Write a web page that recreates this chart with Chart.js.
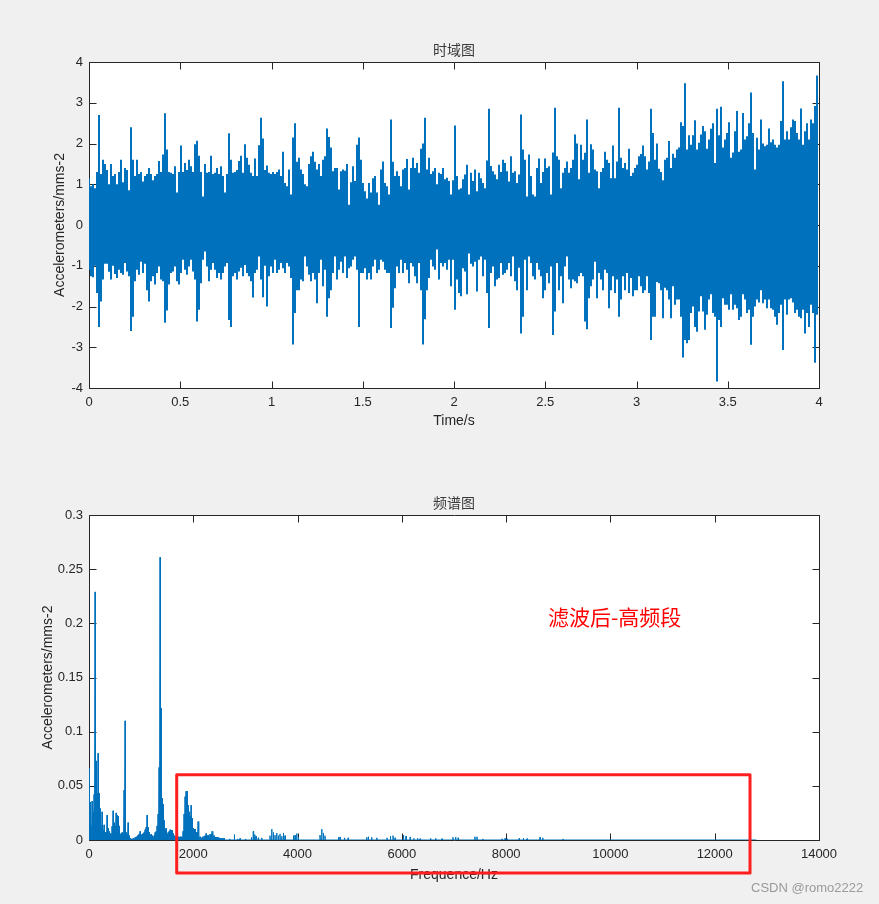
<!DOCTYPE html>
<html>
<head>
<meta charset="utf-8">
<script src="https://cdn.jsdelivr.net/npm/chart.js@4.4.1/dist/chart.umd.min.js"></script>
<style>
html,body{margin:0;padding:0;background:#f0f0f0;width:879px;height:904px;overflow:hidden}
.wrap{position:absolute;left:0;width:879px;height:452px}
#w1{top:0}
#w2{top:452px}
#wm{position:absolute;left:751px;top:880px;font:13px "Liberation Sans",Arial,sans-serif;color:#9a9a9a;white-space:nowrap}
</style>
</head>
<body>
<div class="wrap" id="w1"><canvas id="c1" width="879" height="452" style="width:879px;height:452px"></canvas></div>
<div class="wrap" id="w2"><canvas id="c2" width="879" height="452" style="width:879px;height:452px"></canvas></div>
<div id="wm">CSDN @romo2222</div>
<script>
// ---------------- DATA ----------------
// Time-domain signal: per-column upper / lower envelope (0..4 s)
const timeSpan = 4;
const upperEnv = [
1.15,0.95,1.0,0.9,1.3,2.7,1.25,1.6,1.5,1.35,
1.0,1.5,1.2,1.25,1.0,1.3,1.6,1.05,1.4,1.35,
0.85,2.4,1.6,1.2,1.6,1.25,1.3,1.07,1.2,1.25,
1.4,1.25,1.1,1.2,1.25,1.57,1.3,1.73,2.74,1.85,
1.3,1.28,1.25,1.44,0.8,1.3,1.95,1.3,1.52,1.35,
1.6,1.44,1.3,1.98,2.07,1.7,1.3,0.7,1.5,1.28,
1.3,1.7,1.25,1.28,1.4,1.25,1.44,1.2,0.8,1.25,
2.25,1.6,1.28,1.3,1.35,1.57,1.7,1.28,1.98,1.65,
1.48,1.28,1.2,1.63,1.2,1.96,2.63,2.12,1.35,1.46,
1.28,1.25,
1.3,1.25,1.3,1.36,1.2,1.8,1.03,0.95,1.36,0.75,
2.15,2.5,1.55,1.65,1.36,1.25,1.0,0.95,1.5,1.69,
1.8,1.55,1.36,1.5,1.2,1.6,1.69,2.37,2.16,1.9,
1.32,1.4,1.4,0.87,1.32,1.36,1.33,1.5,0.5,1.05,
1.44,1.08,1.97,2.15,1.6,1.03,0.83,0.65,1.03,0.8,
1.15,1.2,0.8,0.5,1.36,1.56,1.03,0.95,0.75,2.59,
1.55,1.2,1.32,1.2,0.95,1.36,1.4,1.62,0.87,1.4,
1.65,1.4,1.52,1.28,1.87,2.0,2.63,1.36,1.65,1.25,
1.32,1.4,1.0,1.28,1.25,1.4,1.12,1.16,1.08,0.75,1.1,
2.44,1.2,0.87,0.9,1.12,1.24,1.48,0.75,1.28,1.08,
1.36,0.83,1.28,1.15,1.03,0.9,1.58,2.85,1.45,1.32,
1.24,1.12,1.48,1.3,1.6,1.52,1.32,1.07,1.69,1.28,
1.32,1.03,1.24,2.71,1.85,1.6,0.7,1.73,1.2,0.75,
0.7,1.4,1.63,1.03,1.3,1.63,1.4,1.44,0.75,1.78,
2.88,1.69,1.6,0.9,1.28,1.4,1.56,1.28,1.4,1.6,
2.22,2.0,1.12,1.97,1.6,1.77,2.59,1.28,1.98,1.85,
1.36,1.32,0.9,1.3,1.4,1.8,1.6,1.52,1.15,1.95,
1.15,1.56,2.88,1.65,1.4,1.52,1.36,1.87,1.2,1.28,1.4,
1.48,1.69,1.74,1.95,1.69,1.36,1.56,2.85,2.26,1.6,
2.0,1.38,1.3,1.1,1.6,1.65,2.06,1.4,1.75,1.65,
1.85,1.9,2.52,2.43,3.48,1.85,2.2,1.97,2.2,2.57,
1.85,2.02,2.22,2.43,2.3,1.87,2.1,2.36,2.5,1.52,
2.85,2.2,2.9,1.9,2.1,2.26,2.52,1.65,1.78,2.3,
2.8,1.8,1.85,2.75,2.1,2.18,2.5,3.25,2.26,1.36,
2.14,1.85,2.59,2.0,1.93,1.97,2.37,2.03,2.1,1.97,
1.9,1.97,2.55,3.53,2.1,2.3,2.1,2.4,2.59,2.55,
2.26,2.1,2.86,1.97,2.3,2.5,2.1,2.59,2.5,2.92,3.67
];
const lowerEnv = [
-1.1,-1.26,-1.28,-1.0,-1.67,-2.5,-1.88,-1.34,-0.95,-0.95,
-1.15,-1.34,-1.0,-1.2,-1.3,-1.1,-1.18,-1.22,-0.93,-1.14,
-1.26,-2.6,-2.25,-1.38,-1.1,-1.22,-0.9,-1.18,-0.95,-1.6,
-1.88,-1.38,-1.26,-1.46,-1.18,-1.02,-1.34,-1.38,-2.4,-2.1,
-1.46,-1.18,-1.14,-1.02,-1.38,-1.46,-1.18,-0.85,-1.1,-1.22,
-1.02,-0.85,-1.14,-1.34,-2.37,-2.08,-1.43,-0.85,-0.65,-1.02,
-1.38,-1.1,-0.93,-1.1,-1.3,-1.18,-1.34,-1.18,-1.02,-0.93,
-2.33,-2.5,-1.26,-1.18,-1.34,-1.14,-1.05,-1.26,-0.98,-1.18,
-1.26,-1.38,-1.78,-1.18,-1.1,-0.77,-1.34,-1.77,-1.0,-2.0,
-1.26,-1.02,
-1.18,-0.85,-1.18,-1.1,-0.93,-1.06,-1.18,-0.93,-1.02,-1.3,
-2.93,-2.16,-1.6,-1.6,-1.34,-1.38,-0.77,-1.02,-1.22,-1.38,
-1.18,-1.34,-1.92,-1.18,-0.85,-1.5,-1.1,-2.25,-1.8,-1.6,
-1.18,-0.77,-1.34,-1.1,-0.9,-1.18,-0.77,-1.3,-1.06,-1.02,
-0.85,-0.77,-1.1,-2.5,-1.18,-1.18,-1.06,-1.34,-1.18,-1.34,
-1.02,-0.85,-1.18,-1.1,-0.85,-0.9,-1.1,-1.18,-1.18,-2.53,
-2.03,-1.55,-1.02,-1.18,-0.85,-1.18,-0.93,-1.1,-1.43,-0.93,
-1.02,-1.26,-1.43,-0.93,-1.6,-2.93,-2.31,-1.6,-1.3,-0.85,
-1.02,-1.1,-0.6,-1.34,-0.93,-1.02,-0.93,-1.1,-0.85,-1.5,-0.85,
-2.08,-1.34,-1.67,-1.75,-1.06,-1.14,-1.7,-0.7,-0.95,-1.02,
-0.9,-1.63,-0.85,-0.77,-1.26,-0.85,-1.67,-2.53,-1.18,-1.02,
-1.5,-1.34,-1.3,-0.93,-1.22,-1.18,-1.1,-0.93,-1.26,-0.77,
-1.38,-1.6,-1.05,-2.66,-2.25,-0.85,-1.6,-0.77,-0.93,-1.26,
-1.34,-0.93,-1.1,-1.26,-1.8,-1.6,-1.18,-1.43,-1.02,-2.7,
-2.12,-0.93,-1.6,-1.26,-1.92,-1.02,-0.77,-1.34,-1.55,-1.34,
-1.38,-1.43,-1.26,-1.18,-1.26,-2.37,-2.56,-1.8,-1.5,-1.34,
-0.9,-1.8,-1.18,-1.34,-1.6,-1.1,-1.18,-2.04,-1.6,-1.26,
-1.67,-1.34,-2.25,-1.83,-1.26,-1.6,-1.18,-1.67,-1.3,-1.75,-1.6,
-1.6,-1.26,-1.5,-1.67,-1.6,-1.26,-1.67,-2.82,-2.25,-2.25,
-1.4,-1.43,-1.6,-2.29,-1.54,-1.6,-1.83,-2.29,-1.5,-1.96,
-1.83,-1.83,-2.25,-3.25,-2.82,-2.9,-2.82,-2.16,-2.0,-2.5,
-2.62,-2.12,-1.75,-2.12,-2.57,-2.2,-1.83,-1.7,-2.16,-2.25,
-3.84,-2.33,-2.5,-1.8,-1.96,-1.96,-2.08,-1.7,-2.08,-1.96,
-2.04,-2.33,-2.25,-1.7,-1.83,-2.16,-2.08,-2.94,-2.25,-2.0,
-1.83,-1.9,-1.6,-1.92,-1.83,-2.04,-1.83,-2.04,-2.08,-2.25,
-2.45,-2.16,-1.96,-3.07,-1.83,-2.2,-1.83,-1.8,-1.9,-2.16,
-2.08,-2.25,-2.29,-2.08,-2.66,-2.16,-2.5,-1.96,-2.16,-3.38,-2.2
];

// Spectrum: low band sampled every lowBandStepHz, then isolated small peaks
const lowBandStepHz = 14000 / 730;
const lowBandAmps = [
0.066,0.035,0.013,0.036,0.026,0.042,0.229,0.073,0.043,0.080,
0.043,0.029,0.013,0.026,0.009,0.014,0.007,0.007,0.023,0.011,
0.008,0.006,0.0055,0.0126,0.027,0.016,0.013,0.025,0.023,0.022,
0.013,0.0055,0.006,0.007,0.0055,0.046,0.110,0.007,0.0055,0.016,
0.004,0.0015,0.001,0.001,0.0015,0.001,0.0025,0.0025,0.0034,0.0046,
0.0055,0.008,0.0046,0.0055,0.006,0.007,0.0095,0.0117,0.023,0.0117,
0.007,0.004,0.0055,0.004,0.0025,0.004,0.007,0.008,0.013,0.024,
0.067,0.261,0.1215,0.0385,0.033,0.018,0.0095,0.011,0.0055,0.007,
0.008,0.0095,0.009,0.009,0.006,0.004,0.003,0.003,0.003,0.003,
0.0025,0.003,0.003,0.0025,0.008,0.024,0.040,0.045,0.045,0.032,
0.026,0.022,0.032,0.020,0.011,0.010,0.010,0.007,0.007,0.017,
0.004,0.003,0.0015,0.0025,0.003,0.0035,0.004,0.006,0.004,0.0045,
0.0046,0.0055,0.0055,0.008,0.007,0.004,0.0025,0.0025,0.0025,0.002,
0.0025,0.0018,0.0018,0.0018,0.0018,0.0015
];
const peakFreqs = [2700,2787,2850,2896,3000,3113,3151,3177,3203,3247,3311,3471,3503,3535,3567,3599,3631,3663,3695,3727,3759,3919,3951,3983,4015,4430,4462,4494,4526,4782,4814,4900,4970,5325,5357,5420,5520,5715,5780,5830,5870,6030,6080,6160,6230,6300,6350,6550,6650,6770,6980,7030,7080,7400,7440,7550,7920,7980,8020,8250,8330,8400,8650,8700,9090];
const peakAmps = [0.001,0.005,0.001,0.0015,0.001,0.0025,0.008,0.005,0.0035,0.002,0.002,0.004,0.010,0.007,0.0045,0.0065,0.004,0.0055,0.0035,0.0065,0.004,0.004,0.0045,0.006,0.0025,0.0045,0.010,0.0065,0.004,0.0025,0.0028,0.002,0.002,0.0025,0.003,0.0025,0.002,0.002,0.0035,0.004,0.002,0.0046,0.0035,0.0028,0.0015,0.0015,0.0012,0.0015,0.0015,0.0012,0.0025,0.0028,0.002,0.003,0.003,0.001,0.0012,0.0015,0.001,0.0015,0.0018,0.0012,0.0025,0.002,0.001];
const spectrumEndHz = 12800;

// Tick settings / texts
const timeTicks = {min:0, max:4, step:0.5};
const ampTicks = {min:-4, max:4, step:1};
const freqTicks = {min:0, max:14000, step:2000};
const specTicks = {min:0, max:0.3, step:0.05};
const titles = {time:'时域图', spec:'频谱图'};
const axisTitles = {time:'Time/s', freq:'Frequence/Hz', amp:'Accelerometers/mms-2'};
const noteText = '滤波后-高频段';
const noteAt = {f:8803, a:0.2062};
const boxRange = {f0:1682, f1:12677, a0:-0.0305, a1:0.0603};

// ---------------- BUILD ----------------
const LINE = '#0072BD';
const AXC = '#262626';
const FONT = '"Liberation Sans", Arial, sans-serif';
const CJK = '"Noto Sans CJK SC", "Noto Sans CJK JP", sans-serif';

const timeStep = timeSpan / upperEnv.length;
const timeData = upperEnv.map((hi, i) => ({x: i * timeStep, y: [lowerEnv[i], hi]}));

const specData = [];
for (let k = 0; k < lowBandAmps.length; k++) {
  specData.push({x: k * lowBandStepHz, y: lowBandAmps[k]});
  specData.push({x: (k + 0.5) * lowBandStepHz, y: 0});
}
for (let j = 0; j < peakFreqs.length; j++) {
  specData.push({x: peakFreqs[j] - 6, y: 0});
  specData.push({x: peakFreqs[j], y: peakAmps[j]});
  specData.push({x: peakFreqs[j] + 6, y: 0});
}
specData.push({x: spectrumEndHz, y: 0});

const TL = 7;
const matlabBox = {
  id: 'matlabBox',
  beforeDraw(chart) {
    const {ctx, chartArea: a} = chart;
    ctx.save();
    ctx.fillStyle = '#ffffff';
    ctx.fillRect(a.left, a.top, a.right - a.left, a.bottom - a.top);
    ctx.restore();
  },
  beforeDatasetsDraw(chart) {
    const {ctx, chartArea: a, scales} = chart;
    const L = a.left + 0.5, R = a.right + 0.5, T = a.top + 0.5, B = a.bottom + 0.5;
    ctx.save();
    ctx.strokeStyle = AXC;
    ctx.lineWidth = 1;
    ctx.beginPath();
    ctx.rect(L, T, R - L, B - T);
    scales.x.ticks.forEach(t => {
      const px = Math.round(scales.x.getPixelForValue(t.value)) + 0.5;
      ctx.moveTo(px, B); ctx.lineTo(px, B - TL);
      ctx.moveTo(px, T); ctx.lineTo(px, T + TL);
    });
    scales.y.ticks.forEach(t => {
      const py = Math.round(scales.y.getPixelForValue(t.value)) + 0.5;
      ctx.moveTo(L, py); ctx.lineTo(L + TL, py);
      ctx.moveTo(R, py); ctx.lineTo(R - TL, py);
    });
    ctx.stroke();
    ctx.restore();
  }
};

const annot = {
  id: 'annot',
  afterDraw(chart) {
    const {ctx, scales: {x, y}} = chart;
    ctx.save();
    ctx.fillStyle = '#ff0000';
    ctx.font = '21px ' + CJK;
    ctx.textAlign = 'left';
    ctx.textBaseline = 'middle';
    ctx.fillText(noteText, x.getPixelForValue(noteAt.f), y.getPixelForValue(noteAt.a));
    const x0 = x.getPixelForValue(boxRange.f0), x1 = x.getPixelForValue(boxRange.f1);
    const y0 = y.getPixelForValue(boxRange.a1), y1 = y.getPixelForValue(boxRange.a0);
    ctx.strokeStyle = '#ff1f1f';
    ctx.lineWidth = 3;
    ctx.lineJoin = 'round';
    ctx.strokeRect(x0, y0, x1 - x0, y1 - y0);
    ctx.restore();
  }
};

function fmt(v) { return String(Number(v.toFixed(4))); }

function makeChart(id, type, dataset, xt, yt, titleText, xTitle, yTitle, opt) {
  return new Chart(document.getElementById(id), {
    type: type,
    data: {datasets: [dataset]},
    options: {
      responsive: false, animation: false, events: [],
      layout: {padding: {left: 0, right: 60, top: 0, bottom: 0}},
      plugins: {
        legend: {display: false}, tooltip: {enabled: false},
        title: {display: true, text: titleText, fullSize: false, color: '#3a3a3a',
          font: {family: CJK, size: 14, weight: 'normal', lineHeight: 1},
          padding: {top: opt.tTop, bottom: opt.tBot}}
      },
      scales: {
        x: {type: 'linear', min: xt.min, max: xt.max, offset: false,
          grid: {display: false, drawTicks: false, offset: false}, border: {display: false},
          ticks: {stepSize: xt.step, autoSkip: false, maxRotation: 0, padding: 7, color: AXC,
            font: {family: FONT, size: 13}, callback: v => fmt(v)},
          title: {display: true, text: xTitle, color: AXC, font: {family: FONT, size: 14}, padding: {top: 0, bottom: opt.xtb}},
          afterFit: s => { s.height = opt.xh; }
        },
        y: {type: 'linear', min: yt.min, max: yt.max, beginAtZero: false,
          grid: {display: false, drawTicks: false}, border: {display: false},
          ticks: {stepSize: yt.step, autoSkip: false, padding: 6, color: AXC,
            font: {family: FONT, size: 13}, callback: v => fmt(v)},
          title: {display: true, text: yTitle, color: AXC, font: {family: FONT, size: 14}, padding: {top: opt.yPad, bottom: 0}},
          afterFit: s => { s.width = 89; }
        }
      }
    },
    plugins: opt.plugins
  });
}

makeChart('c1', 'bar',
  {data: timeData, backgroundColor: LINE, borderWidth: 0, barPercentage: 1, categoryPercentage: 1, grouped: false, inflateAmount: 0},
  timeTicks, ampTicks, titles.time, axisTitles.time, axisTitles.amp,
  {tTop: 43, tBot: 5, xh: 64, xtb: 22, yPad: 52, plugins: [matlabBox]});
makeChart('c2', 'line',
  {data: specData, borderColor: LINE, borderWidth: 1, pointRadius: 0, fill: false, tension: 0},
  freqTicks, specTicks, titles.spec, axisTitles.freq, axisTitles.amp,
  {tTop: 43.5, tBot: 5.5, xh: 64, xtb: 20, yPad: 39.5, plugins: [matlabBox, annot]});
</script>
</body>
</html>
